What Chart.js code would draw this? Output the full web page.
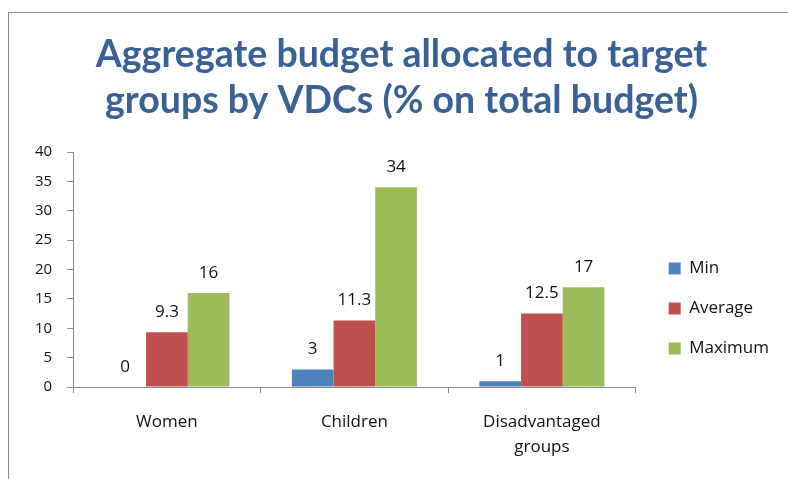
<!DOCTYPE html>
<html>
<head>
<meta charset="utf-8">
<script src="https://cdn.jsdelivr.net/npm/chart.js@4/dist/chart.umd.min.js"></script>
<style>
  html, body { margin: 0; padding: 0; background: #fff; }
  #wrap { position: relative; width: 788px; height: 479px; overflow: hidden; }
  #frame { position: absolute; left: 8px; top: 12px; width: 900px; height: 600px; border: 1px solid #8a8a8a; box-sizing: border-box; }
  #c { position: absolute; left: 0; top: 0; }
</style>
</head>
<body>
<div id="wrap">
  <div id="frame"></div>
  <canvas id="c" width="788" height="479"></canvas>
</div>
<script>
const titleLines = ['Aggregate budget allocated to target', 'groups by VDCs (% on total budget)'];
const categories = ['Women', 'Children', ['Disadvantaged', 'groups']];
const seriesNames = ['Min', 'Average', 'Maximum'];
const minValues = [0, 3, 1];
const averageValues = [9.3, 11.3, 12.5];
const maximumValues = [16, 34, 17];
const seriesColors = ['#4F81BD', '#C0504D', '#9BBB59'];
const yTicks = { min: 0, max: 40, step: 5 };

const FAMILY = '"Open Sans", Lato, sans-serif';
Chart.defaults.font.family = FAMILY;
Chart.defaults.color = '#111';

const valueLabels = {
  id: 'valueLabels',
  afterDatasetsDraw(chart) {
    const ctx = chart.ctx;
    ctx.save();
    ctx.font = '17px ' + FAMILY;
    ctx.fillStyle = '#111';
    ctx.textAlign = 'center';
    ctx.textBaseline = 'middle';
    chart.data.datasets.forEach((ds, i) => {
      const meta = chart.getDatasetMeta(i);
      meta.data.forEach((bar, j) => {
        ctx.fillText(String(ds.data[j]), bar.x, bar.y - 20);
      });
    });
    ctx.restore();
  }
};

const boxShift = {
  id: 'boxShift',
  afterLayout(chart) {
    const lg = chart.legend;
    if (lg) {
      const dx = 10, dy = 39;
      lg.left += dx; lg.right += dx;
      lg.top += dy; lg.bottom += dy;
    }
    const tb = chart.titleBlock;
    if (tb) {
      tb.left += 7; tb.right += 7;
    }
  }
};

new Chart(document.getElementById('c'), {
  type: 'bar',
  data: {
    labels: categories,
    datasets: [
      { label: seriesNames[0], data: minValues, backgroundColor: seriesColors[0] },
      { label: seriesNames[1], data: averageValues, backgroundColor: seriesColors[1] },
      { label: seriesNames[2], data: maximumValues, backgroundColor: seriesColors[2] }
    ]
  },
  options: {
    responsive: false,
    animation: false,
    layout: { padding: { left: 20, right: 19, top: 0, bottom: 2 } },
    datasets: { bar: { categoryPercentage: 0.667, barPercentage: 1.0 } },
    plugins: {
      title: {
        display: true,
        text: titleLines,
        color: '#3A6195',
        font: { family: 'Lato, sans-serif', size: 37.5, weight: 'bold', lineHeight: 46 / 37.5 },
        padding: { top: 32, bottom: 28 }
      },
      legend: {
        position: 'right',
        fullSize: false,
        labels: {
          boxWidth: 12,
          boxHeight: 12,
          padding: 23,
          color: '#111',
          font: { size: 17 }
        }
      },
      tooltip: { enabled: false }
    },
    scales: {
      x: {
        grid: { display: true, drawOnChartArea: false, drawTicks: true, tickLength: 6, color: '#888', offset: true },
        border: { display: true, color: '#888' },
        ticks: { padding: 17, color: '#111', font: { size: 17, lineHeight: 25 / 17 }, maxRotation: 0 }
      },
      y: {
        min: yTicks.min,
        max: yTicks.max,
        grid: { display: true, drawOnChartArea: false, drawTicks: true, tickLength: 6, color: '#888' },
        border: { display: true, color: '#888' },
        ticks: { stepSize: yTicks.step, padding: 15, color: '#111', font: { size: 15 } }
      }
    }
  },
  plugins: [valueLabels, boxShift]
});
</script>
</body>
</html>
